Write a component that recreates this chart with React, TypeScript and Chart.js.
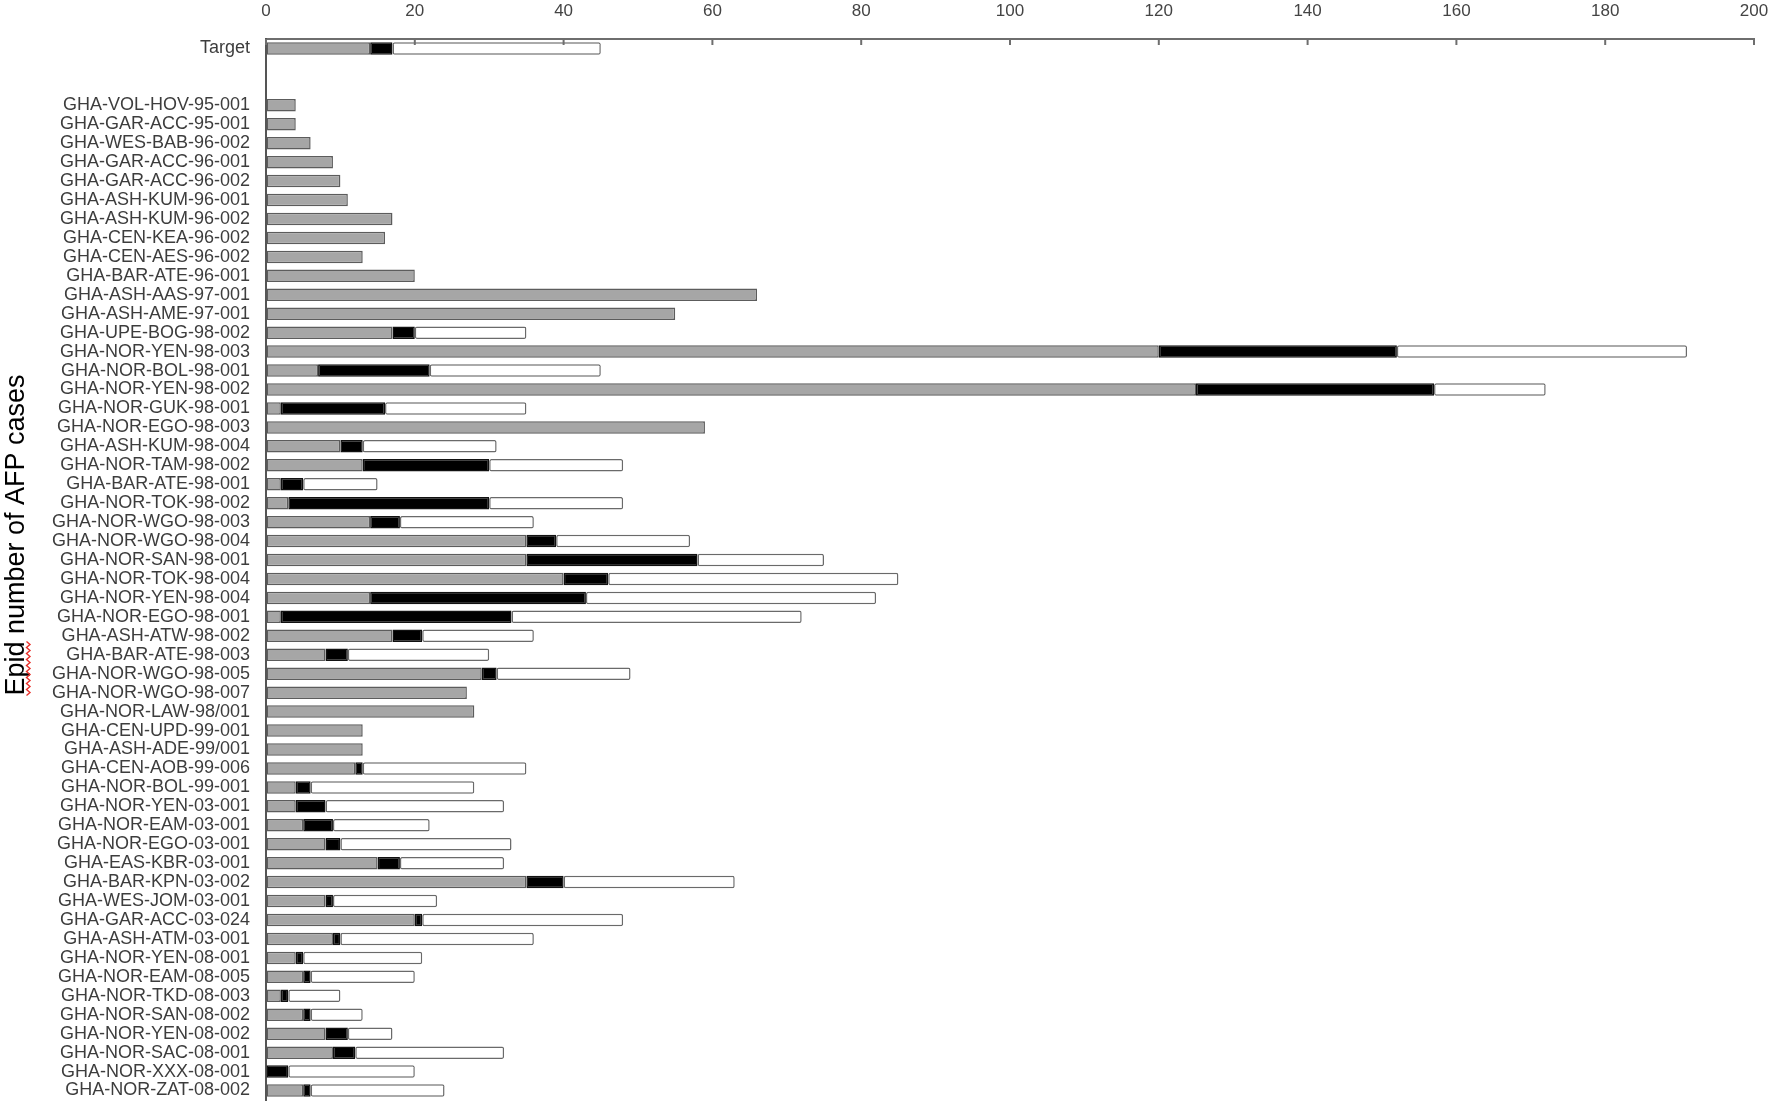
import { useEffect, useRef } from "react";
import { Chart, registerables, type Plugin } from "chart.js";

Chart.register(...registerables);

const FONT = '"Liberation Sans", Arial, sans-serif';

const CASES = [
  "Target", "", "",
  "GHA-VOL-HOV-95-001", "GHA-GAR-ACC-95-001", "GHA-WES-BAB-96-002", "GHA-GAR-ACC-96-001",
  "GHA-GAR-ACC-96-002", "GHA-ASH-KUM-96-001", "GHA-ASH-KUM-96-002", "GHA-CEN-KEA-96-002",
  "GHA-CEN-AES-96-002", "GHA-BAR-ATE-96-001", "GHA-ASH-AAS-97-001", "GHA-ASH-AME-97-001",
  "GHA-UPE-BOG-98-002", "GHA-NOR-YEN-98-003", "GHA-NOR-BOL-98-001", "GHA-NOR-YEN-98-002",
  "GHA-NOR-GUK-98-001", "GHA-NOR-EGO-98-003", "GHA-ASH-KUM-98-004", "GHA-NOR-TAM-98-002",
  "GHA-BAR-ATE-98-001", "GHA-NOR-TOK-98-002", "GHA-NOR-WGO-98-003", "GHA-NOR-WGO-98-004",
  "GHA-NOR-SAN-98-001", "GHA-NOR-TOK-98-004", "GHA-NOR-YEN-98-004", "GHA-NOR-EGO-98-001",
  "GHA-ASH-ATW-98-002", "GHA-BAR-ATE-98-003", "GHA-NOR-WGO-98-005", "GHA-NOR-WGO-98-007",
  "GHA-NOR-LAW-98/001", "GHA-CEN-UPD-99-001", "GHA-ASH-ADE-99/001", "GHA-CEN-AOB-99-006",
  "GHA-NOR-BOL-99-001", "GHA-NOR-YEN-03-001", "GHA-NOR-EAM-03-001", "GHA-NOR-EGO-03-001",
  "GHA-EAS-KBR-03-001", "GHA-BAR-KPN-03-002", "GHA-WES-JOM-03-001", "GHA-GAR-ACC-03-024",
  "GHA-ASH-ATM-03-001", "GHA-NOR-YEN-08-001", "GHA-NOR-EAM-08-005", "GHA-NOR-TKD-08-003",
  "GHA-NOR-SAN-08-002", "GHA-NOR-YEN-08-002", "GHA-NOR-SAC-08-001", "GHA-NOR-XXX-08-001",
  "GHA-NOR-ZAT-08-002",
];

// segment lengths, in order of the categories above
const GREY_PART = [
  14, null, null,
  4, 4, 6, 9, 10, 11, 17, 16, 13, 20, 66, 55,
  17, 120, 7, 125, 2, 59, 10, 13, 2, 3, 14, 35,
  35, 40, 14, 2, 17, 8, 29, 27, 28, 13, 13, 12,
  4, 4, 5, 8, 15, 35, 8, 20, 9, 4, 5, 2,
  5, 8, 9, null, 5,
];
const BLACK_PART = [
  3, null, null,
  null, null, null, null, null, null, null, null, null, null, null, null,
  3, 32, 15, 32, 14, null, 3, 17, 3, 27, 4, 4,
  23, 6, 29, 31, 4, 3, 2, null, null, null, null, 1,
  2, 4, 4, 2, 3, 5, 1, 1, 1, 1, 1, 1,
  1, 3, 3, 3, 1,
];
const WHITE_PART = [
  28, null, null,
  null, null, null, null, null, null, null, null, null, null, null, null,
  15, 39, 23, 15, 19, null, 18, 18, 10, 18, 18, 18,
  17, 39, 39, 39, 15, 19, 18, null, null, null, null, 22,
  22, 24, 13, 23, 14, 23, 14, 27, 26, 16, 14, 7,
  7, 6, 20, 17, 18,
];

const AXIS_TITLE = "Epid number of AFP cases";

// inward tick marks on the top axis + rotated axis title with the spell-check squiggle
const decor: Plugin<"bar"> = {
  id: "decor",
  afterDraw(chart) {
    const { ctx, chartArea } = chart;
    const x = chart.scales.x;
    ctx.save();
    ctx.strokeStyle = "#6e6e6e";
    ctx.lineWidth = 2;
    x.ticks.forEach((t) => {
      const px = x.getPixelForValue(t.value);
      ctx.beginPath();
      ctx.moveTo(px, chartArea.top);
      ctx.lineTo(px, chartArea.top + 6);
      ctx.stroke();
    });
    ctx.restore();

    ctx.save();
    ctx.translate(24, 535);
    ctx.rotate(-Math.PI / 2);
    ctx.font = `27px ${FONT}`;
    ctx.fillStyle = "#000";
    ctx.textAlign = "center";
    ctx.textBaseline = "alphabetic";
    ctx.fillText(AXIS_TITLE, 0, 0);
    const w = ctx.measureText(AXIS_TITLE).width;
    const we = ctx.measureText("Epid").width;
    ctx.strokeStyle = "#e8302a";
    ctx.lineWidth = 1.4;
    ctx.beginPath();
    let up = true;
    for (let lx = -w / 2; lx <= -w / 2 + we; lx += 3) {
      const ly = up ? 2.5 : 6;
      if (lx === -w / 2) ctx.moveTo(lx, ly);
      else ctx.lineTo(lx, ly);
      up = !up;
    }
    ctx.stroke();
    ctx.restore();
  },
};

export default function App() {
  const ref = useRef<HTMLCanvasElement>(null);

  useEffect(() => {
    if (!ref.current) return;
    const seg = {
      barPercentage: 0.66,
      categoryPercentage: 1,
      borderWidth: 1.5,
      borderSkipped: false as const,
    };
    const chart = new Chart(ref.current, {
      type: "bar",
      data: {
        labels: CASES,
        datasets: [
          { label: "grey", data: GREY_PART, backgroundColor: "#a6a6a6", borderColor: "#5c5c5c", ...seg },
          { label: "black", data: BLACK_PART, backgroundColor: "#000000", borderColor: "#111111", ...seg },
          { label: "white", data: WHITE_PART, backgroundColor: "#ffffff", borderColor: "#6a6a6a", borderRadius: 2, ...seg },
        ],
      },
      options: {
        animation: false,
        responsive: false,
        devicePixelRatio: 1,
        indexAxis: "y",
        layout: { padding: { left: 0, right: 18, top: 0, bottom: 2 } },
        plugins: { legend: { display: false }, tooltip: { enabled: false } },
        scales: {
          x: {
            position: "top",
            stacked: true,
            min: 0,
            max: 200,
            ticks: { stepSize: 20, font: { size: 17, family: FONT }, color: "#444", padding: 17 },
            grid: { drawOnChartArea: false, drawTicks: false },
            border: { color: "#6e6e6e", width: 2 },
            afterFit: (s) => {
              s.height = 39;
              s.paddingLeft = 0;
              s.paddingRight = 0;
            },
          },
          y: {
            stacked: true,
            ticks: { autoSkip: false, font: { size: 18, family: FONT }, color: "#3d3d3d", padding: 16 },
            grid: { drawOnChartArea: false, drawTicks: false },
            border: { color: "#555", width: 2 },
            afterFit: (s) => {
              s.width = 266;
              s.paddingTop = 0;
              s.paddingBottom = 0;
            },
          },
        },
      },
      plugins: [decor],
    });
    return () => { chart.destroy(); };
  }, []);

  return (
    <div style={{ position: "fixed", left: 0, top: 0, width: 1772, height: 1102, background: "#fff" }}>
      <canvas ref={ref} width={1772} height={1102} style={{ display: "block" }} />
    </div>
  );
}
